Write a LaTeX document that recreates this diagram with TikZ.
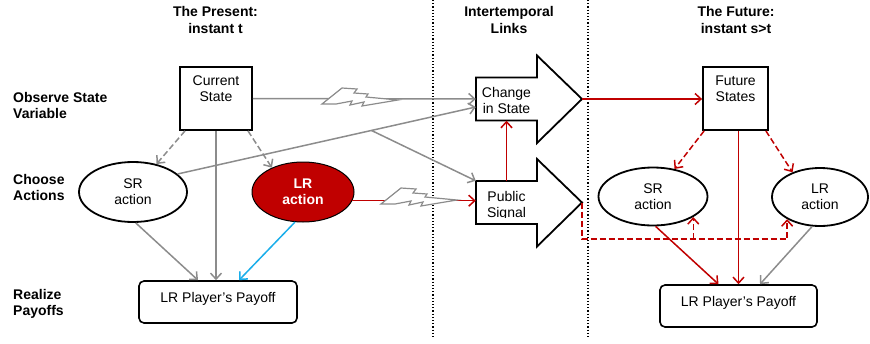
\documentclass[tikz,border=0pt]{standalone}
\usepackage{fontspec}
\setmainfont{Liberation Sans}
\usetikzlibrary{arrows.meta,shapes.geometric}
\definecolor{lrred}{HTML}{C00000}
\definecolor{linkgray}{HTML}{8C8C8C}
\definecolor{payblue}{HTML}{1AAEEA}
\tikzset{
  every node/.style={font=\fontsize{14}{16}\selectfont, align=center},
  stage/.style={draw, line width=1.8pt, inner sep=0pt},
  act/.style={ellipse, draw, line width=1.8pt, inner sep=0pt},
  link/.style={line width=1.5pt, -{Straight Barb[length=6pt,width=11pt]}},
  guess/.style={dash pattern=on 6pt off 3pt},
  heading/.style={font=\bfseries\fontsize{14}{16.5}\selectfont},
  rowname/.style={font=\bfseries\fontsize{14}{16}\selectfont, align=left, anchor=west, inner xsep=0pt},
}
\newcommand\zap[1]{\draw[linkgray, line width=1.2pt, fill=white, shift={#1}]
  (0,0) -- (20,-16) -- (35,-15) -- (32,-11) -- (46,-10) -- (44,-7) -- (76,-4)
  -- (40,2) -- (42,-2) -- (28,1) -- (30,-3) -- (14,0) -- cycle;}
\begin{document}
\begin{tikzpicture}[x=1pt, y=-1pt]
\useasboundingbox (0,0) rectangle (870,343);
% dividers
\foreach \x in {433,588}
  \draw[dotted, line width=1.2pt] (\x,0) -- (\x,337);
% headings
\node[heading] (hpres) at (215.5,20) {The Present:\\instant t};
\node[heading] (hlink) at (509,20) {Intertemporal\\Links};
\node[heading] (hfut) at (736,20) {The Future:\\instant s>t};
\node[rowname] (robs) at (13,105.5) {Observe State\\Variable};
\node[rowname] (rcho) at (13,187) {Choose\\Actions};
\node[rowname] (rrea) at (13,304) {Realize\\Payoffs};
% states
\node[stage, minimum width=72pt, minimum height=63pt] (cur) at (216,98.5) {};
\node (curtxt) at (216,89) {Current\\State};
\node[stage, minimum width=65pt, minimum height=63pt] (fut) at (735.5,98.5) {};
\node (futtxt) at (735.5,89) {Future\\States};
% intertemporal arrows
\foreach \y/\n in {99/chg,202.5/pub} {
  \draw[line width=1.8pt, fill=white] (476,\y-21.5) -- (537,\y-21.5) -- (537,\y-43.5)
    -- (582,\y) -- (537,\y+44) -- (537,\y+21.5) -- (476,\y+21.5) -- cycle;
  \node[inner sep=0pt, minimum width=61pt, minimum height=43pt] (\n) at (506.5,\y) {};
  \coordinate (\n tip) at (582,\y);
}
\node (chgtxt) at (506.5,100.5) {Change\\in State};
\begin{scope}
  \clip (476,150) rectangle (537,217.5);
  \node (pubtxt) at (506.5,205.5) {Public\\Signal};
\end{scope}
% actions
\node[act, minimum width=108pt, minimum height=60pt] (sr1) at (133,192) {SR\\action};
\node[act, fill=lrred, line width=1pt, minimum width=102pt, minimum height=60pt,
  text=white, font=\bfseries\fontsize{14}{16}\selectfont] (lr1) at (303,192) {LR\\action};
\node[act, minimum width=109pt, minimum height=58pt] (sr2) at (653,196.5) {SR\\action};
\node[act, minimum width=96pt, minimum height=58pt] (lr2) at (820,197) {LR\\action};
% payoffs
\node[stage, rounded corners=5pt, line width=1.6pt, minimum width=158pt, minimum height=42pt] (pay1) at (218,302) {};
\node (pay1txt) at (218,298.5) {LR Player's Payoff};
\node[stage, rounded corners=5pt, line width=1.6pt, minimum width=157pt, minimum height=42pt] (pay2) at (738.5,306) {};
\node (pay2txt) at (738.5,302.5) {LR Player's Payoff};
% present
\draw[link, linkgray] (cur.east) -- (chg.west);
\draw[link, linkgray, guess] ([xshift=-31pt]cur.south) -- (sr1.50);
\draw[link, linkgray] (cur.south) -- (cur.south |- pay1.north);
\draw[link, linkgray, guess] ([xshift=32pt]cur.south) -- (lr1.142);
\draw[link, linkgray] (sr1.22) -- coordinate[pos=0.65] (fork) ([yshift=-8pt]chg.west);
\draw[link, linkgray] (fork) -- (pub.north west);
\draw[link, linkgray] (sr1.-85) -- ([xshift=-20pt]pay1.north);
\draw[link, payblue] (lr1.-105) -- ([xshift=21pt]pay1.north);
\draw[link, lrred] (lr1.-10) -- (lr1.-10 -| pub.west);
\zap{(322,104)}
\zap{(381,204)}
% intertemporal links
\draw[link, lrred] (pub.north) -- (chg.south);
\draw[link, lrred] (chgtip) -- (chgtip -| fut.west);
% future
\draw[link, lrred, guess] ([xshift=2pt]fut.south west) -- (sr2.52);
\draw[link, lrred] (fut.south -| pay2.north) -- (pay2.north);
\draw[link, lrred, guess] ([xshift=-3pt]fut.south east) -- (lr2.138);
\draw[link, lrred] (sr2.-85) -- ([xshift=-20pt]pay2.north);
\draw[link, linkgray] (lr2.-105) -- ([xshift=21.5pt]pay2.north);
\draw[link, lrred, guess] (pubtip) -- ++(0,36.5) coordinate (bus) -| (lr2.-146);
\draw[link, lrred, guess] (bus -| sr2.-27) -- (sr2.-27);
\end{tikzpicture}
\end{document}
